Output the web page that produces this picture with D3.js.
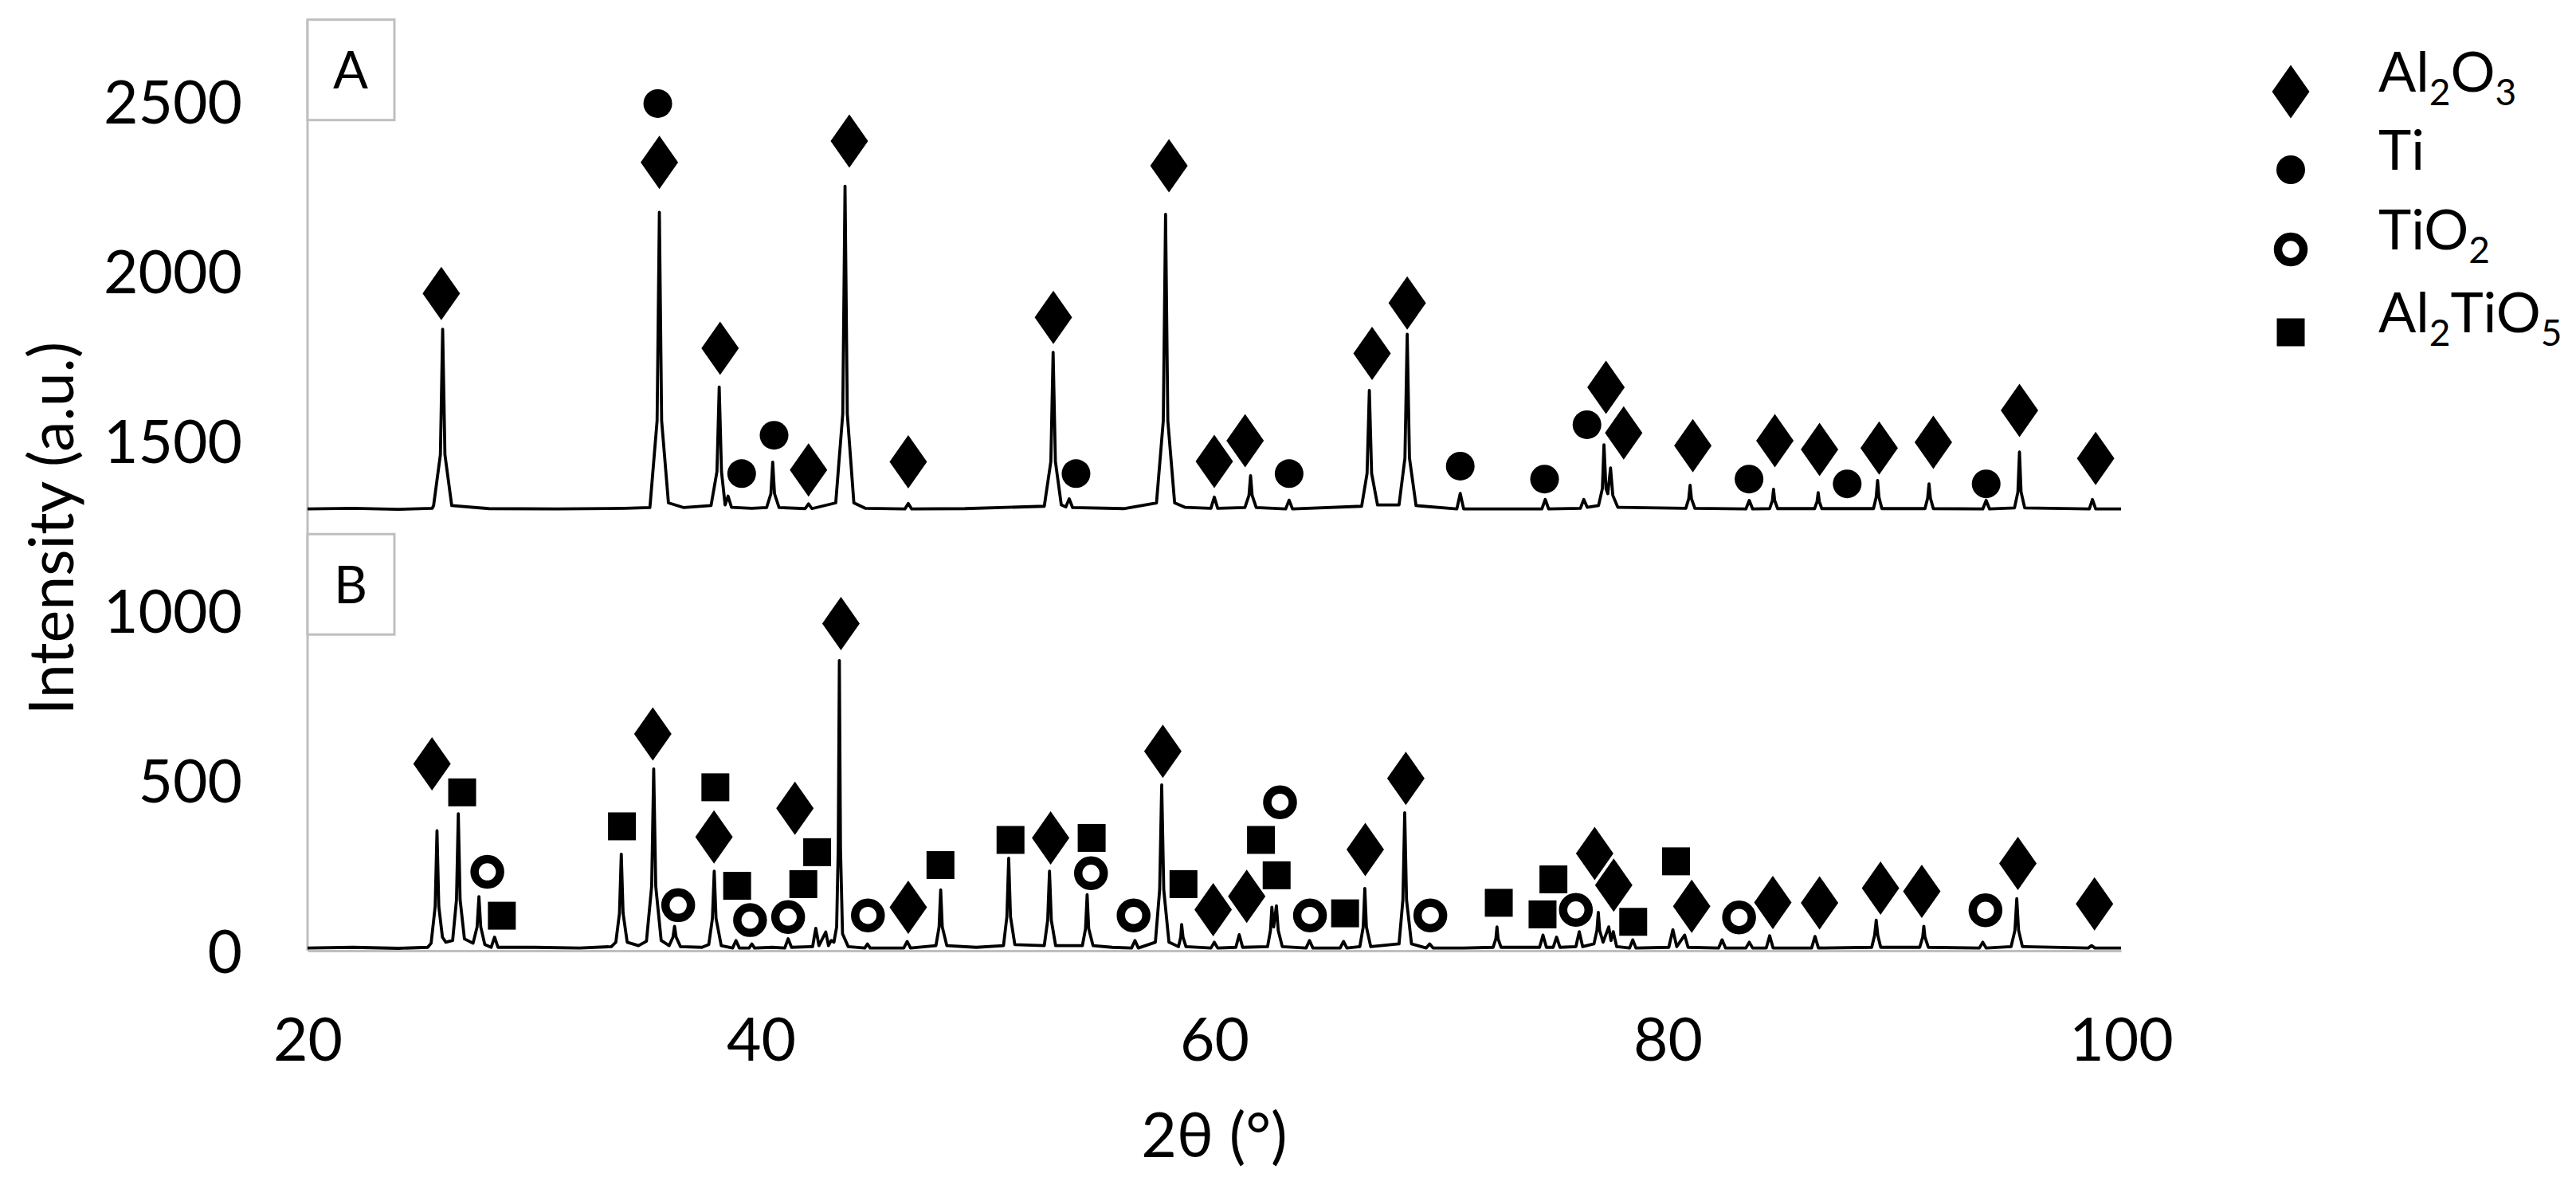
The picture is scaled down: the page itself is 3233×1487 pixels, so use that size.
<!DOCTYPE html>
<html>
<head>
<meta charset="utf-8">
<script src="https://cdn.jsdelivr.net/npm/d3@7"></script>
<style>
  html, body { margin: 0; padding: 0; background: #fff; }
</style>
</head>
<body>
<svg id="chart"></svg>
<script>
// Tick labels
const xTicks = [20, 40, 60, 80, 100];
const yTicks = [0, 500, 1000, 1500, 2000, 2500];

// Trace A (upper pattern), [2θ, intensity]
const traceA = [
  [20,1300],[22,1302],[24,1299],[25.5,1302],
  [25.56,1310],[25.86,1460],[25.96,1829],[26.06,1460],[26.36,1310],
  [28,1301],[31,1300],[34,1302],[35.1,1304],
  [35.12,1318],[35.42,1560],[35.52,2173],[35.62,1560],[35.92,1318],
  [36.6,1304],[37.8,1310],
  [38.06,1410],[38.16,1659],[38.26,1410],[38.42,1312],[38.55,1338],[38.7,1305],
  [39.6,1302],[40.25,1304],[40.44,1345],[40.52,1438],[40.6,1345],[40.8,1304],
  [41.95,1301],[42.1,1315],[42.25,1301],
  [43.3,1318],[43.61,1580],[43.71,2250],[43.81,1580],[44.1,1318],[44.6,1302],
  [46.35,1300],[46.5,1316],[46.65,1300],
  [49,1301],[52.5,1308],[52.79,1440],[52.89,1761],[52.99,1440],[53.25,1312],
  [53.45,1306],[53.6,1330],[53.75,1304],
  [56,1301],[57.45,1318],[57.75,1560],[57.85,2167],[57.95,1560],[58.25,1318],[58.7,1305],
  [59.85,1302],[60.0,1335],[60.15,1302],
  [61.35,1304],[61.53,1340],[61.6,1398],[61.67,1340],[61.85,1304],
  [63.15,1300],[63.3,1326],[63.45,1300],
  [66.5,1308],[66.74,1405],[66.84,1649],[66.94,1405],[67.2,1312],
  [68.15,1312],[68.41,1450],[68.51,1814],[68.61,1450],[68.9,1310],
  [70.7,1300],[70.85,1346],[71.0,1300],
  [74.45,1300],[74.6,1328],[74.75,1300],
  [76.15,1302],[76.3,1328],[76.45,1305],
  [76.95,1310],[77.12,1360],[77.19,1489],[77.28,1360],[77.36,1345],[77.48,1421],[77.58,1340],[77.8,1305],
  [80.8,1302],[80.93,1330],[80.99,1370],[81.05,1330],[81.2,1302],
  [83.45,1300],[83.6,1325],[83.75,1300],
  [84.5,1301],[84.62,1325],[84.67,1358],[84.72,1325],[84.85,1301],
  [86.48,1301],[86.59,1322],[86.64,1348],[86.69,1322],[86.8,1301],
  [89.08,1301],[89.2,1335],[89.26,1384],[89.32,1335],[89.45,1301],
  [91.35,1301],[91.47,1332],[91.53,1374],[91.59,1332],[91.72,1301],
  [93.9,1300],[94.05,1325],[94.2,1300],
  [95.3,1303],[95.45,1350],[95.52,1468],[95.59,1350],[95.75,1303],
  [98.6,1300],[98.74,1328],[98.88,1300],
  [100,1300]
];

// Trace B (lower pattern), [2θ, intensity]
const traceB = [
  [20,8],[22,10],[24,7],[25.3,10],
  [25.45,22],[25.63,130],[25.71,353],[25.79,130],[25.95,40],[26.1,25],
  [26.4,30],[26.57,150],[26.65,403],[26.73,150],[26.92,35],
  [27.3,22],[27.48,70],[27.56,159],[27.64,70],[27.82,18],
  [28.1,10],[28.25,40],[28.4,10],
  [30,10],[32,8],[33.4,12],
  [33.6,25],[33.76,110],[33.84,284],[33.92,110],[34.1,25],[34.6,15],
  [34.95,28],[35.18,190],[35.27,535],[35.36,190],[35.6,30],
  [35.95,15],[36.12,40],[36.19,72],[36.26,40],[36.45,12],[37.4,10],
  [37.7,18],[37.86,95],[37.94,234],[38.02,95],[38.25,15],
  [38.75,8],[38.9,30],[39.05,8],
  [39.48,8],[39.6,20],[39.72,8],[40.5,10],
  [41.05,8],[41.2,35],[41.35,10],
  [42.28,12],[42.42,66],[42.56,15],[42.86,55],[42.98,15],[43.1,30],[43.22,25],
  [43.34,70],[43.41,300],[43.46,854],[43.51,300],[43.6,50],[43.85,12],
  [44.58,8],[44.7,20],[44.82,8],
  [46.3,8],[46.45,27],[46.6,8],
  [47.72,15],[47.86,70],[47.93,179],[48.0,70],[48.2,15],[49.5,10],
  [50.7,15],[50.85,100],[50.93,272],[51.01,100],[51.2,18],
  [52.5,15],[52.65,90],[52.73,234],[52.81,90],[53.0,15],
  [54.18,15],[54.32,65],[54.39,165],[54.46,65],[54.65,15],[55.5,10],
  [56.35,8],[56.5,30],[56.65,8],
  [57.4,25],[57.59,180],[57.68,488],[57.77,180],[58.0,25],
  [58.42,12],[58.52,40],[58.56,77],[58.62,40],[58.75,12],
  [59.85,8],[60.0,25],[60.15,8],
  [60.95,10],[61.1,47],[61.25,10],
  [62.35,12],[62.48,60],[62.54,128],[62.62,70],[62.74,132],[62.82,60],[63.0,12],
  [64.05,8],[64.2,30],[64.35,8],
  [65.55,8],[65.7,27],[65.85,8],
  [66.42,12],[66.57,70],[66.64,183],[66.71,70],[66.9,12],
  [68.15,20],[68.32,150],[68.4,406],[68.48,150],[68.7,20],
  [69.35,8],[69.5,20],[69.65,8],[71,8],
  [72.3,10],[72.42,35],[72.47,70],[72.52,35],[72.65,10],
  [74.35,10],[74.5,46],[74.65,10],
  [74.95,10],[75.1,40],[75.25,10],
  [75.95,12],[76.1,56],[76.25,12],
  [76.75,20],[76.88,60],[76.94,113],[77.0,60],[77.15,25],[77.4,70],[77.5,30],[77.6,56],[77.75,12],
  [78.32,8],[78.46,32],[78.6,8],
  [80.05,10],[80.23,62],[80.4,12],[80.75,46],[80.9,10],
  [82.25,8],[82.4,32],[82.55,8],
  [83.45,8],[83.6,25],[83.75,8],
  [84.35,8],[84.5,44],[84.65,8],
  [86.35,8],[86.5,42],[86.65,8],
  [89.0,10],[89.13,45],[89.2,90],[89.27,45],[89.4,10],
  [91.12,10],[91.25,40],[91.3,72],[91.35,40],[91.5,10],
  [93.75,8],[93.9,25],[94.05,8],
  [95.15,12],[95.32,60],[95.4,153],[95.48,60],[95.65,12],
  [98.55,8],[98.7,15],[98.85,8],
  [100,8]
];

// Phase markers, [2θ, intensity]
const al2o3A = [[25.9,1934],[35.52,2320],[38.2,1773],[42.1,1415],[43.9,2383],[46.5,1439],[52.9,1864],[58.0,2310],[60.0,1440],[61.36,1501],[66.96,1758],[68.51,1906],[77.28,1658],[78.06,1524],[81.11,1486],[84.73,1501],[86.7,1475],[89.33,1479],[91.72,1496],[95.52,1590],[98.88,1449]];
const tiA = [[35.45,2493],[39.15,1404],[40.58,1517],[53.9,1404],[63.3,1404],[70.85,1426],[74.57,1388],[76.44,1548],[83.59,1388],[87.92,1374],[94.05,1374]];
const al2o3B = [[25.49,550],[35.23,638],[37.93,335],[41.5,419],[43.53,963],[46.5,128],[52.78,332],[57.73,587],[59.95,121],[61.43,160],[66.66,298],[68.45,507],[76.78,286],[77.62,193],[81.06,131],[84.64,142],[86.7,141],[89.39,184],[91.21,175],[95.45,257],[98.83,138]];
const tio2B = [[27.93,232],[36.35,134],[39.52,90],[41.2,99],[44.72,104],[54.56,228],[56.44,104],[62.9,437],[64.22,104],[69.53,104],[75.95,120],[83.15,98],[94.02,119]];
const al2tio5B = [[26.82,466],[28.57,103],[33.87,366],[37.99,481],[38.95,191],[41.87,196],[42.48,290],[47.92,252],[51.01,326],[54.59,332],[58.64,196],[62.06,326],[62.75,222],[65.77,110],[72.55,141],[74.48,107],[74.96,210],[78.48,85],[80.37,263]];

// Legend entries: text parts, true = subscript
const legendItems = [
  { shape: "diamond", parts: [["Al", false], ["2", true], ["O", false], ["3", true]] },
  { shape: "dot", parts: [["Ti", false]] },
  { shape: "ring", parts: [["Ti", false], ["O", false], ["2", true]] },
  { shape: "square", parts: [["Al", false], ["2", true], ["TiO", false], ["5", true]] }
];
const panelLabels = ["A", "B"];

// Chart dimensions
const width = 3233;
const height = 1487;
const font = "Lato, 'Open Sans', sans-serif";
const grey = "#bfbfbf";

const x = d3.scaleLinear([20, 100], [386, 2662]);
const y = d3.scaleLinear([0, 2500], [1193, 127]);
const yTop = 2740;

const svg = d3.select("#chart")
  .attr("width", width)
  .attr("height", height)
  .attr("viewBox", [0, 0, width, height])
  .style("font-family", font);

svg.append("rect").attr("width", width).attr("height", height).attr("fill", "#fff");

// Marker shapes
const shapes = {
  diamond: g => g.append("path").attr("d", "M0,-33.5L23.5,0L0,33.5L-23.5,0Z").attr("fill", "#000"),
  dot: g => g.append("circle").attr("r", 18).attr("fill", "#000"),
  ring: g => g.append("circle").attr("r", 16).attr("fill", "none").attr("stroke", "#000").attr("stroke-width", 10.5),
  square: g => g.append("rect").attr("x", -17.5).attr("y", -17.5).attr("width", 35).attr("height", 35).attr("fill", "#000")
};

// Y axis: labels only, grey domain line
svg.append("g")
  .attr("transform", `translate(${x(20)},0)`)
  .call(d3.axisLeft(y).tickValues(yTicks).tickSize(0).tickPadding(82).tickFormat(d3.format("d")))
  .call(g => g.select(".domain").remove())
  .call(g => g.selectAll("text")
    .attr("font-family", font)
    .attr("font-size", 75)
    .attr("fill", "#000")
    .attr("dy", "0.36em"));

svg.append("line")
  .attr("x1", x(20)).attr("x2", x(20))
  .attr("y1", y(yTop)).attr("y2", y(0))
  .attr("stroke", grey).attr("stroke-width", 3);

// X axis
svg.append("g")
  .attr("transform", `translate(0,${y(0)})`)
  .call(d3.axisBottom(x).tickValues(xTicks).tickSize(0))
  .call(g => g.select(".domain").attr("stroke", grey).attr("stroke-width", 3))
  .call(g => g.selectAll("text")
    .attr("font-family", font)
    .attr("font-size", 75)
    .attr("fill", "#000")
    .attr("y", 111)
    .attr("dy", "0.36em"));

// Axis titles
svg.append("text")
  .attr("x", (x(20) + x(100)) / 2)
  .attr("y", 1452)
  .attr("text-anchor", "middle")
  .attr("font-size", 77)
  .text("2θ (°)");

svg.append("text")
  .attr("transform", "translate(92,663) rotate(-90)")
  .attr("text-anchor", "middle")
  .attr("font-size", 77)
  .text("Intensity (a.u.)");

// Panel label boxes
const boxTops = [yTop, 1226];
panelLabels.forEach((label, i) => {
  const g = svg.append("g").attr("transform", `translate(${x(20)},${y(boxTops[i])})`);
  g.append("rect")
    .attr("width", 109).attr("height", 126)
    .attr("fill", "#fff").attr("stroke", grey).attr("stroke-width", 3);
  g.append("text")
    .attr("x", 54).attr("y", 63).attr("dy", "0.36em")
    .attr("text-anchor", "middle")
    .attr("font-size", 65)
    .text(label);
});

// Traces
const line = d3.line().x(d => x(d[0])).y(d => y(d[1]));
[traceA, traceB].forEach(trace => {
  svg.append("path")
    .attr("fill", "none")
    .attr("stroke", "#000")
    .attr("stroke-width", 3.8)
    .attr("stroke-linejoin", "round")
    .attr("d", line(trace));
});

// Markers
const markerSets = [
  [al2o3A, "diamond"], [tiA, "dot"],
  [al2o3B, "diamond"], [tio2B, "ring"], [al2tio5B, "square"]
];
markerSets.forEach(([pts, shape]) => {
  svg.append("g").selectAll("g")
    .data(pts)
    .join("g")
    .attr("transform", d => `translate(${x(d[0])},${y(d[1])})`)
    .each(function () { shapes[shape](d3.select(this)); });
});

// Legend
const legendRows = [115, 213, 313, 417];
legendItems.forEach((item, i) => {
  const g = svg.append("g").attr("transform", `translate(2875,${legendRows[i]})`);
  shapes[item.shape](g);
  const t = g.append("text")
    .attr("x", 110)
    .attr("dy", "0.36em")
    .attr("font-size", 70);
  item.parts.forEach(([s, sub], j) => {
    const prevSub = j > 0 && item.parts[j - 1][1];
    t.append("tspan")
      .attr("font-size", sub ? 46 : 70)
      .attr("dy", sub ? 17 : (prevSub ? -17 : 0))
      .text(s);
  });
});
</script>
</body>
</html>
